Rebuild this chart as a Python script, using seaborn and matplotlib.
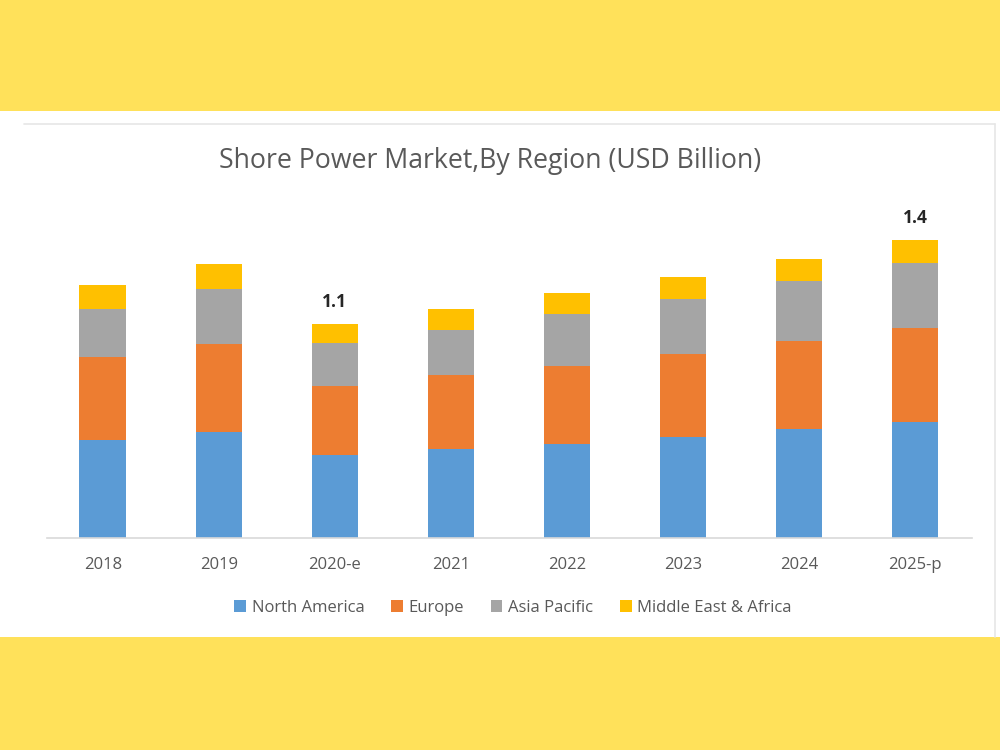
import numpy as np
import pandas as pd
import matplotlib.pyplot as plt
import seaborn as sns
from matplotlib.patches import Rectangle, Patch
from matplotlib.lines import Line2D

sns.set_theme(style="white")
plt.rcParams['font.family'] = ['Open Sans', 'DejaVu Sans']

# Données (USD Billion)
years = ['2018', '2019', '2020-e', '2021', '2022', '2023', '2024', '2025-p']
north_america = [0.504, 0.545, 0.427, 0.457, 0.483, 0.519, 0.560, 0.596]
europe = [0.427, 0.452, 0.355, 0.380, 0.401, 0.427, 0.452, 0.483]
asia_pacific = [0.247, 0.283, 0.221, 0.231, 0.267, 0.283, 0.308, 0.334]
mea = [0.123, 0.129, 0.098, 0.108, 0.108, 0.113, 0.113, 0.118]
labels = {'2020-e': '1.1', '2025-p': '1.4'}

regions = ['North America', 'Europe', 'Asia Pacific', 'Middle East & Africa']
colors = ['#5B9BD5', '#ED7D31', '#A5A5A5', '#FFC000']

df = pd.DataFrame({'year': years, 'North America': north_america, 'Europe': europe,
                   'Asia Pacific': asia_pacific, 'Middle East & Africa': mea})
cum = df[regions].cumsum(axis=1)

fig = plt.figure(figsize=(10, 7.5), dpi=100)
fig.patch.set_facecolor('#FFE15A')
# panneau blanc central + bordure légère
fig.patches.append(Rectangle((0, 0.1507), 1, 0.7013, transform=fig.transFigure,
                             facecolor='white', edgecolor='none', zorder=-5))
fig.lines.append(Line2D([0.024, 0.995], [0.835, 0.835], transform=fig.transFigure,
                        color='#E6E6E6', lw=1.2, zorder=-4))
fig.lines.append(Line2D([0.995, 0.995], [0.1507, 0.835], transform=fig.transFigure,
                        color='#E6E6E6', lw=1.2, zorder=-4))

ax = fig.add_axes([0.047, 0.2827, 0.925, 0.4507])
ax.set_zorder(3)
ax.patch.set_alpha(0)

# barres empilées : on trace les cumuls du haut vers le bas
for region, color in zip(regions[::-1], colors[::-1]):
    sns.barplot(x=df['year'], y=cum[region], color=color, width=0.40,
                saturation=1, linewidth=0, ax=ax)

for i, y in enumerate(years):
    if y in labels:
        ax.text(i, cum.loc[i, 'Middle East & Africa'] + 0.065, labels[y], ha='center',
                va='bottom', fontsize=12.5, fontweight='bold', color='#262626')

ax.set_xlim(-0.48, 7.49)
ax.set_ylim(0, 1.737)
ax.set_xlabel('')
ax.set_ylabel('')
ax.set_yticks([])
for s in ['top', 'right', 'left']:
    ax.spines[s].set_visible(False)
ax.spines['bottom'].set_color('#D9D9D9')
ax.spines['bottom'].set_linewidth(1.2)
ax.tick_params(axis='x', length=0, pad=14, labelsize=12, labelcolor='#595959')

fig.text(0.49, 0.785, 'Shore Power Market,By Region (USD Billion)', ha='center',
         va='center', fontsize=19.2, color='#595959')

handles = [Patch(facecolor=c, edgecolor='none') for c in colors]
fig.legend(handles, regions, loc='center', bbox_to_anchor=(0.513, 0.19), ncol=4,
           frameon=False, fontsize=12, handlelength=0.7, handleheight=0.7,
           handletextpad=0.35, columnspacing=1.6, labelcolor='#595959')

fig.savefig('out.png', dpi=100, facecolor=fig.get_facecolor())
